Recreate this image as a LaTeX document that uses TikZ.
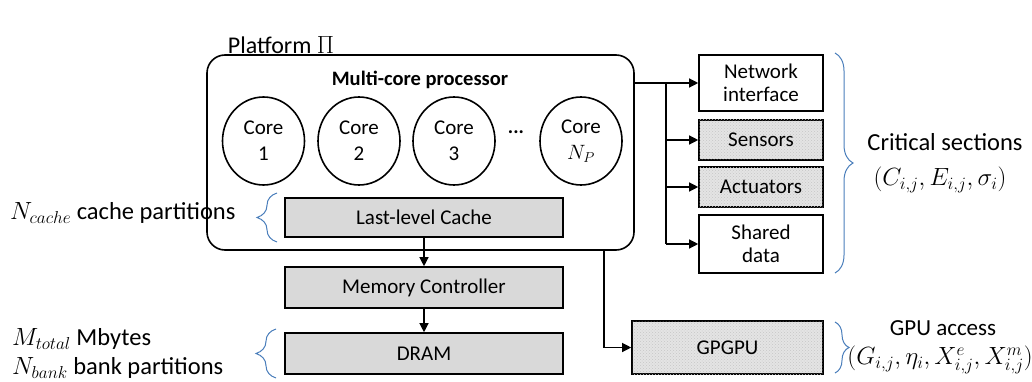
\documentclass[tikz,border=0pt]{standalone}
\usepackage{fontspec}
\setmainfont{Carlito}
\usetikzlibrary{arrows.meta,decorations.pathreplacing,patterns,shapes.geometric}
\definecolor{boxgray}{HTML}{D9D9D9}
\definecolor{dotgray}{HTML}{E4E4E4}
\definecolor{braceblue}{HTML}{4A7EBB}
\begin{document}
\begin{tikzpicture}[x=1pt,y=-1pt,
  box/.style={draw=black,line width=1.6pt,rectangle,inner sep=0pt,align=center,font=\fontsize{21}{23}\selectfont},
  graybox/.style={box,fill=boxgray},
  dotbox/.style={box,fill=dotgray,postaction={pattern=crosshatch dots,pattern color=gray!45}},
  corenode/.style={draw=black,line width=1.6pt,ellipse,minimum width=82pt,minimum height=88pt,inner sep=0pt,align=center,font=\fontsize{21}{26}\selectfont},
  conn/.style={line width=1.2pt,-{Triangle[length=9pt,width=9pt]}},
  plain/.style={line width=1.2pt},
  bracestyle/.style={draw=braceblue,line width=1pt,decorate},
  label/.style={inner sep=0pt,align=center,font=\fontsize{24.5}{28}\selectfont}
]
\useasboundingbox (0,0) rectangle (1032,382);

\node[label,font=\fontsize{24}{28}\selectfont] (plat) at (281,45) {Platform $\Pi$};

% processor
\node[draw=black,line width=1.6pt,rounded corners=18pt,minimum width=427pt,minimum height=195pt,inner sep=0pt] (proc) at (420.5,152.5) {};
\node[inner sep=0pt,font=\fontsize{20.5}{24}\selectfont\bfseries] (proct) at (420,80) {Multi-core processor};

\node[corenode] (c1) at (263.5,141) {Core\\1};
\node[corenode] (c2) at (359,141) {Core\\2};
\node[corenode] (c3) at (454,141) {Core\\3};
\node[inner sep=0pt,font=\fontsize{20}{24}\selectfont\bfseries] (dots) at (516,132) {...};
\node[corenode] (cn) at (581,141) {Core\\$N_P$};

% memory hierarchy
\node[graybox,minimum width=278pt,minimum height=39pt] (llc) at (424,217.5) {Last-level Cache};
\node[graybox,minimum width=278pt,minimum height=41pt] (mc) at (424,287.5) {Memory Controller};
\node[graybox,minimum width=278pt,minimum height=41pt] (dram) at (424,353.5) {DRAM};

% right devices
\node[box,fill=white,minimum width=124pt,minimum height=56pt] (ni) at (761,83) {Network\\interface};
\node[dotbox,minimum width=124pt,minimum height=40pt] (sen) at (761,140) {Sensors};
\node[dotbox,minimum width=124pt,minimum height=40pt] (act) at (761,187) {Actuators};
\node[box,fill=white,minimum width=124pt,minimum height=58pt] (sd) at (761,244) {Shared\\data};
\node[dotbox,minimum width=191pt,minimum height=53pt] (gpu) at (727.5,347.5) {GPGPU};

% connectors
\coordinate (bus) at (666,83);
\coordinate (gdown) at (604,250);
\draw[conn] (proc.east |- ni.west) -- (ni.west);
\draw[plain] (bus) -- (bus |- sd.west);
\draw[conn] (bus |- sen.west) -- (sen.west);
\draw[conn] (bus |- act.west) -- (act.west);
\draw[conn] (bus |- sd.west) -- (sd.west);
\draw[conn] (llc.south) -- (mc.north);
\draw[conn] (mc.south) -- (dram.north);
\draw[conn] (gdown) |- (gpu.west);

% braces
\draw[bracestyle,decoration={brace,amplitude=18pt}] (835,53) -- (835,273);
\draw[bracestyle,decoration={brace,amplitude=14pt}] (835,322) -- (835,373);
\draw[bracestyle,decoration={brace,amplitude=20pt}] (277,242) -- (277,193);
\draw[bracestyle,decoration={brace,amplitude=20pt}] (276,378) -- (276,329);

% side labels
\node[label] (cs) at (945,142) {Critical sections};
\node[label,font=\fontsize{23}{27}\selectfont] (csm) at (940,180) {$(C_{i,j},E_{i,j},\sigma_i)$};
\node[label,font=\fontsize{23}{27}\selectfont] (ga) at (943,328) {GPU access};
\node[label,font=\fontsize{24.5}{28}\selectfont] (gam) at (940,360) {$(G_{i,j},\eta_i,X^e_{i,j},X^m_{i,j})$};
\node[label,anchor=west] (ncache) at (10,213) {$N_{cache}$ cache partitions};
\node[label,anchor=west] (mtot) at (12,339) {$M_{total}$ Mbytes};
\node[label,anchor=west] (nbank) at (12,368) {$N_{bank}$ bank partitions};
\end{tikzpicture}
\end{document}
